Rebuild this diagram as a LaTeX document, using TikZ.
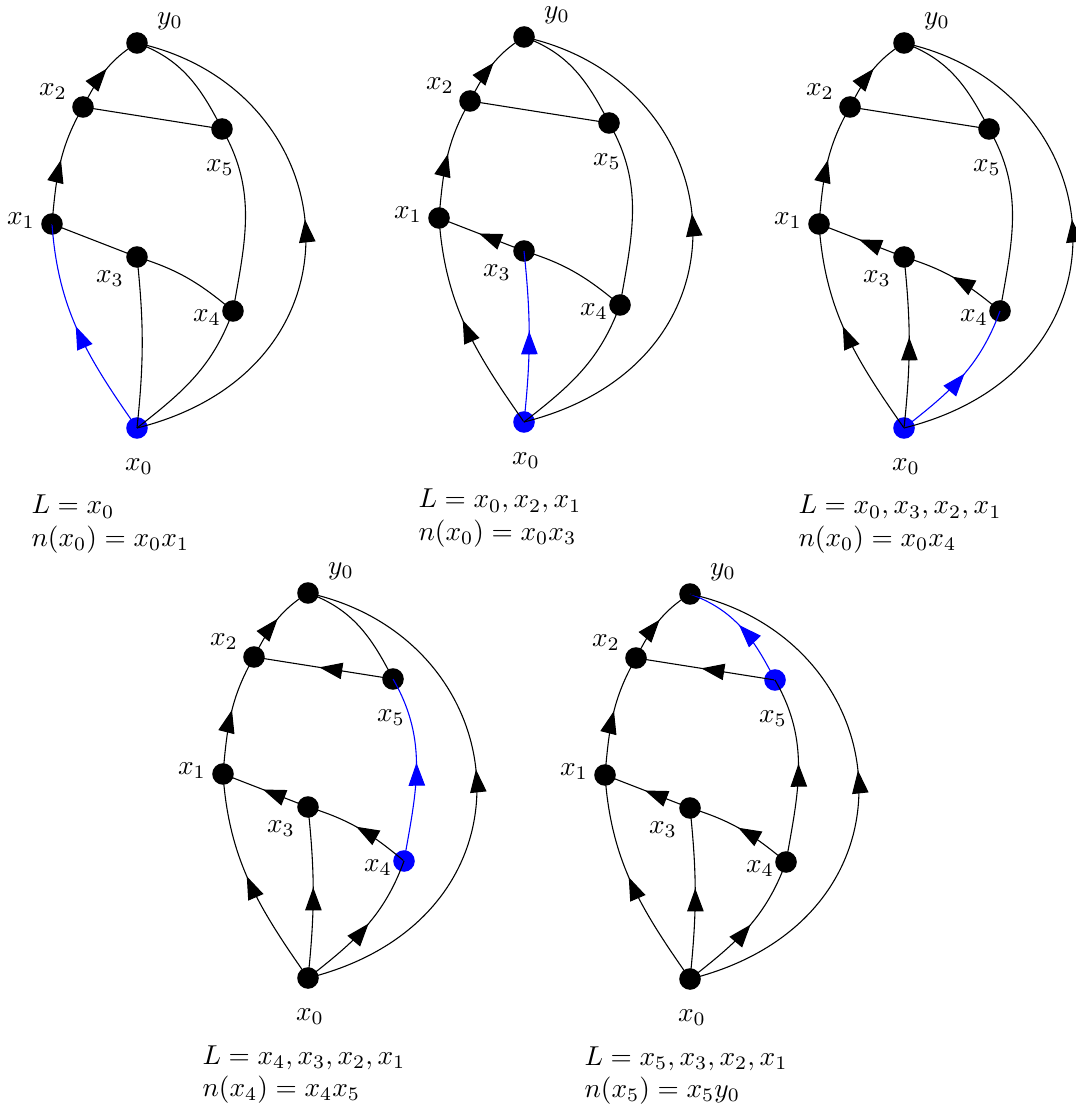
\documentclass[tikz,border=0pt]{standalone}
\usetikzlibrary{arrows.meta,decorations.markings}
\tikzset{
  x=0.366pt, y=0.366pt,
  dot/.style={circle,fill=black,draw=none,inner sep=0pt,minimum size=7.9pt},
  hot/.style={fill=blue},
  lab/.style={inner sep=0pt},
  txt/.style={inner sep=0pt,anchor=base west},
  arr/.style={decoration={markings,mark=at position 0.53 with {\arrow{Triangle[length=8.4pt,width=6pt]}}},postaction={decorate}},
  barr/.style={blue,decoration={markings,mark=at position 0.53 with {\arrow[blue]{Triangle[length=8.4pt,width=6pt]}}},postaction={decorate}},
  v0/.style={}, v1/.style={}, v2/.style={}, v3/.style={}, v4/.style={}, v5/.style={}, vy/.style={},
  e01/.style={}, e03/.style={}, e04/.style={}, e31/.style={}, e43/.style={},
  e45/.style={}, e52/.style={}, e5y/.style={}
}
\newcommand\drawgraph[3]{%
  \node[dot,vy] (#1y0) at (137,-43) {};
  \node[dot,v2] (#1x2) at (83,-107) {};
  \node[dot,v5] (#1x5) at (222,-129) {};
  \node[dot,v1] (#1x1) at (52,-224) {};
  \node[dot,v3] (#1x3) at (137,-257) {};
  \node[dot,v4] (#1x4) at (233,-311) {};
  \node[dot,v0] (#1x0) at (137,-428) {};
  \node[lab] (#1ly0) at (170,-21) {$y_0$};
  \node[lab] (#1lx2) at (53,-92) {$x_2$};
  \node[lab] (#1lx5) at (220,-168) {$x_5$};
  \node[lab] (#1lx1) at (21,-221) {$x_1$};
  \node[lab] (#1lx3) at (110,-279) {$x_3$};
  \node[lab] (#1lx4) at (207,-318) {$x_4$};
  \node[lab] (#1lx0) at (139,-467) {$x_0$};
  \node[txt] (#1tL) at (31,-514) {$L=#2$};
  \node[txt] (#1tn) at (31,-546) {$#3$};
  \draw[e01] (#1x0.center) to[out=125,in=-86] (#1x1.center);
  \draw[arr] (#1x1.center) to[out=85,in=-120] (#1x2.center);
  \draw[arr] (#1x2.center) to[out=63,in=-148] (#1y0.center);
  \draw[e52] (#1x5.center) -- (#1x2.center);
  \draw[e31] (#1x3.center) -- (#1x1.center);
  \draw[e43] (#1x4.center) to[out=140,in=-17] (#1x3.center);
  \draw[e03] (#1x0.center) to[out=84,in=-84] (#1x3.center);
  \draw[e04] (#1x0.center) to[out=38,in=-110] (#1x4.center);
  \draw[e45] (#1x4.center) to[out=80,in=-60] (#1x5.center);
  \draw[e5y] (#1x5.center) to[out=117,in=-20] (#1y0.center);
  \draw[arr] (#1x0.center) .. controls +(240,60) and +(210,-46) .. (#1y0.center);
}
\begin{document}
\begin{tikzpicture}
\useasboundingbox (0,0) rectangle (1075,-1111);
\begin{scope}[v0/.style={hot}, e01/.style={barr}]
  \drawgraph{a}{x_0}{n(x_0)=x_0x_1}
\end{scope}
\begin{scope}[shift={(387,6)}, v0/.style={hot}, e01/.style={arr}, e03/.style={barr}, e31/.style={arr}]
  \drawgraph{b}{x_0,x_2,x_1}{n(x_0)=x_0x_3}
\end{scope}
\begin{scope}[shift={(767,0)}, v0/.style={hot}, e01/.style={arr}, e03/.style={arr}, e31/.style={arr}, e43/.style={arr}, e04/.style={barr}]
  \drawgraph{c}{x_0,x_3,x_2,x_1}{n(x_0)=x_0x_4}
\end{scope}
\begin{scope}[shift={(171,-550)}, v4/.style={hot}, e01/.style={arr}, e03/.style={arr}, e04/.style={arr}, e31/.style={arr}, e43/.style={arr}, e52/.style={arr}, e45/.style={barr}]
  \drawgraph{d}{x_4,x_3,x_2,x_1}{n(x_4)=x_4x_5}
\end{scope}
\begin{scope}[shift={(553,-551)}, v5/.style={hot}, e01/.style={arr}, e03/.style={arr}, e04/.style={arr}, e31/.style={arr}, e43/.style={arr}, e52/.style={arr}, e45/.style={arr}, e5y/.style={barr}]
  \drawgraph{e}{x_5,x_3,x_2,x_1}{n(x_5)=x_5y_0}
\end{scope}
\end{tikzpicture}
\end{document}
